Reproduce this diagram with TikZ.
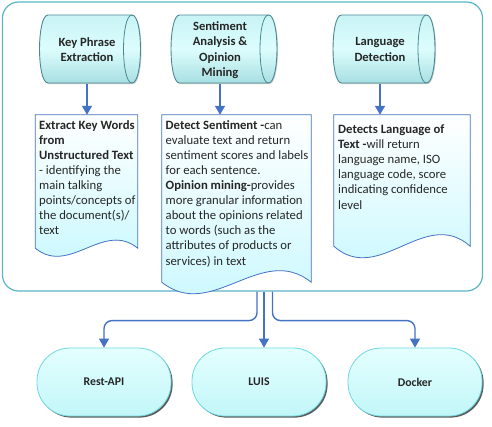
\documentclass[tikz,border=0pt]{standalone}
\usepackage{fontspec}
\setmainfont{Carlito}
\usetikzlibrary{arrows.meta,calc,shadows}
\definecolor{frameC}{HTML}{5BB5C9}
\definecolor{arrC}{HTML}{4472C4}
\definecolor{docC}{HTML}{4472C4}
\definecolor{cyanL}{HTML}{C6F8FF}
\definecolor{txtC}{HTML}{262626}
\definecolor{cylEdge}{HTML}{4A8A92}
\definecolor{cylTop}{HTML}{C8F3F5}
\definecolor{cylMid}{HTML}{DDFDFD}
\definecolor{cylBot}{HTML}{A8DFE2}
\definecolor{pillEdge}{HTML}{6FD8E0}
\definecolor{pillTop}{HTML}{E4FFFF}
\definecolor{pillBot}{HTML}{C2F6F8}
\tikzset{
  conn/.style={draw=arrC, line width=1.4pt, -{Triangle[width=10pt,length=9pt]}},
  cyltext/.style={font=\bfseries\fontsize{12.6}{15.3}\selectfont, text=txtC, align=center, inner sep=0pt, minimum height=68pt},
  cylbody/.style={draw=cylEdge, line width=0.9pt, top color=cylTop, bottom color=cylBot, middle color=cylMid,
    drop shadow={shadow xshift=1pt, shadow yshift=-1pt, fill=black!40, opacity=0.5}},
  cylinner/.style={draw=cylEdge, line width=0.8pt},
  docframe/.style={inner sep=0pt, draw=none},
  docbody/.style={draw=docC, line width=0.8pt, top color=white, bottom color=cyanL},
  doctext/.style={font=\fontsize{12.7}{15.1}\selectfont, text=txtC, align=left, inner sep=0pt, anchor=north west},
  pill/.style={draw=pillEdge, line width=0.8pt, rounded corners=33pt, minimum width=134pt, minimum height=68pt,
    top color=pillTop, bottom color=pillBot, text=txtC, font=\bfseries\fontsize{11.8}{14}\selectfont,
    drop shadow={shadow xshift=1.6pt, shadow yshift=-1.6pt, fill=black!75, opacity=0.85}},
  outerframe/.style={draw=frameC, line width=1.2pt, rounded corners=16pt, fill=white, inner sep=0pt}
}
\newcommand\mycyl[4]{%
  \path[cylbody] (#1,#3) -- (#2,#3) .. controls ({#2+11.3},#3) and ({#2+11.3},#4) .. (#2,#4)
     -- (#1,#4) .. controls ({#1-11.3},#4) and ({#1-11.3},#3) .. (#1,#3) -- cycle;
  \draw[cylinner] (#2,#3) .. controls ({#2-11.3},#3) and ({#2-11.3},#4) .. (#2,#4);
}
\newcommand\mydoc[3]{%
  \path[docbody] (#1.north west) -- (#1.north east) -- (#1.south east)
    .. controls ($(#1.south east)+(-#2/3,-#3)$) and ($(#1.south west)+(#2/3,#3)$) .. (#1.south west) -- cycle;
}
\begin{document}
\begin{tikzpicture}[x=1pt,y=-1pt]
\useasboundingbox (0,0) rectangle (492,426);
% outer frame
\node[outerframe, minimum width=480pt, minimum height=289pt] (frame) at (242.5,146.5) {};
% documents
\node[docframe, minimum width=102pt, minimum height=133pt] (d1) at (86.5,181.5) {};
\mydoc{d1}{102}{28}
\node[docframe, minimum width=149pt, minimum height=167pt] (d2) at (236.5,198.5) {};
\mydoc{d2}{149}{40}
\node[docframe, minimum width=136pt, minimum height=131pt] (d3) at (402,180.5) {};
\mydoc{d3}{136}{40}
\node[doctext] (t1) at (39,120) {\textbf{Extract Key Words}\\\textbf{from}\\\textbf{Unstructured Text}\\- identifying the\\main talking\\points/concepts of\\the document(s)/\\text};
\node[doctext] (t2) at (165.5,120) {\textbf{Detect Sentiment -}can\\evaluate text and return\\sentiment scores and labels\\for each sentence.\\\textbf{Opinion mining-}provides\\more granular information\\about the opinions related\\to words (such as the\\attributes of products or\\services) in text};
\node[doctext] (t3) at (338,124.5) {\textbf{Detects Language of}\\\textbf{Text -}will return\\language name, ISO\\language code, score\\indicating confidence\\level};
% cylinders
\mycyl{48}{132}{15}{83}
\node[cyltext] (kp) at (87,49.5) {Key Phrase\\Extraction};
\mycyl{179.5}{268.5}{15}{83}
\node[cyltext] (sa) at (220,50) {Sentiment\\Analysis \&\\Opinion\\Mining};
\mycyl{341.5}{426.5}{15}{83}
\node[cyltext] (ld) at (380,49.5) {Language\\Detection};
% arrows top
\draw[conn] (kp.south) -- (kp.south |- d1.north);
\draw[conn] (sa.south) -- (sa.south |- d2.north);
\draw[conn] (ld.south) -- (ld.south |- d3.north);
% bottom pills
\node[pill] (rest) at (104,382) {Rest-API};
\node[pill] (luis) at (259,382) {LUIS};
\node[pill] (dock) at (415,382) {Docker};
% bottom connectors
\coordinate (s1) at ($(frame.south)+(14.5,0)$);
\coordinate (s2) at ($(frame.south)+(21.5,0)$);
\coordinate (s3) at ($(frame.south)+(30,0)$);
\draw[conn, rounded corners=8pt] (s1) -- ($(s1)+(0,29)$) -| (rest.north);
\draw[conn] (s2) -- (s2 |- luis.north);
\draw[conn, rounded corners=8pt] (s3) -- ($(s3)+(0,29)$) -| (dock.north);
\end{tikzpicture}
\end{document}
